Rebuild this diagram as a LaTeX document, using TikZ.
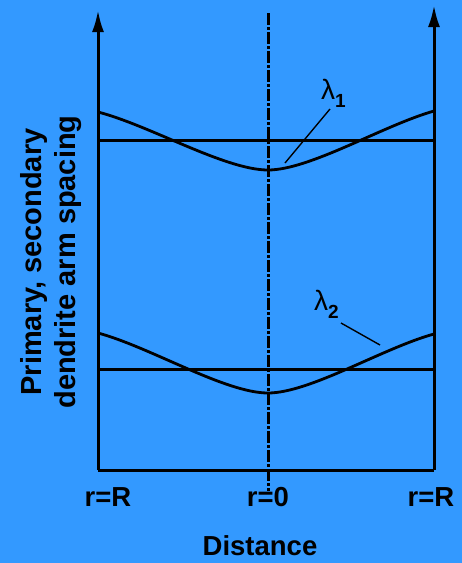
\documentclass[tikz,border=0pt]{standalone}
\usepackage{fontspec}
\setmainfont{Liberation Sans}
\usetikzlibrary{arrows.meta}

\definecolor{bgblue}{RGB}{51,153,255}

\newcommand{\lamlab}[1]{λ\raisebox{-8pt}{\fontsize{19}{19}\selectfont\bfseries #1}}

\tikzset{
    axis/.style={line width=3pt, -{Latex[length=22pt,width=12pt]}},
    frame/.style={line width=3pt},
    curve/.style={line width=2.8pt},
    centerline/.style={line width=3pt, dash pattern=on 12pt off 2pt on 3pt off 2pt},
    leader/.style={line width=1.4pt},
    lab/.style={font=\fontsize{27.5}{33}\selectfont\bfseries},
    ylab/.style={font=\fontsize{29}{34}\selectfont\bfseries},
    lam/.style={font=\fontsize{28}{33}\selectfont, inner sep=0pt}
}

\begin{document}
\begin{tikzpicture}[x=1pt, y=-1pt]
    % background and size
    \fill[bgblue] (0,0) rectangle (462,563);
    \useasboundingbox (0,0) rectangle (462,563);

    \coordinate (LB) at (98,470);
    \coordinate (LT) at (98,10);
    \coordinate (RB) at (434,470);
    \coordinate (RT) at (434,5);

    % axes
    \draw[axis] (LB) -- (LT);
    \draw[axis] (RB) -- (RT);
    \draw[frame] (LB) -- (RB);
    \draw[centerline] (268,13) -- (268,491);

    % mean levels
    \draw[frame] (98,140) -- (434,140);
    \draw[frame] (98,369) -- (434,369);

    % primary spacing
    \draw[curve] (98,112) .. controls (150,125.5) and (225,170) .. (268,170)
        .. controls (310,170) and (383,125.5) .. (434,111);

    % secondary spacing
    \draw[curve] (98,333) .. controls (150,347) and (225,393) .. (268,393)
        .. controls (310,393) and (383,348) .. (434,334);

    % labels
    \node[lam, anchor=base west] (lam1) at (321,99) {\lamlab{1}};
    \coordinate (c1) at (285,163);
    \draw[leader] (330,109) -- (c1);

    \node[lam, anchor=base west] (lam2) at (314,310) {\lamlab{2}};
    \coordinate (c2) at (380,345);
    \draw[leader] (341,323) -- (c2);

    \node[lab] (rl) at (108,497) {r=R};
    \node[lab] (r0) at (268,497) {r=0};
    \node[lab] (rr) at (431,497) {r=R};
    \node[lab] (xlab) at (260,546) {Distance};

    \node[ylab, rotate=90, align=center] (ylab) at (51,262)
        {Primary, secondary\\dendrite arm spacing};
\end{tikzpicture}
\end{document}
